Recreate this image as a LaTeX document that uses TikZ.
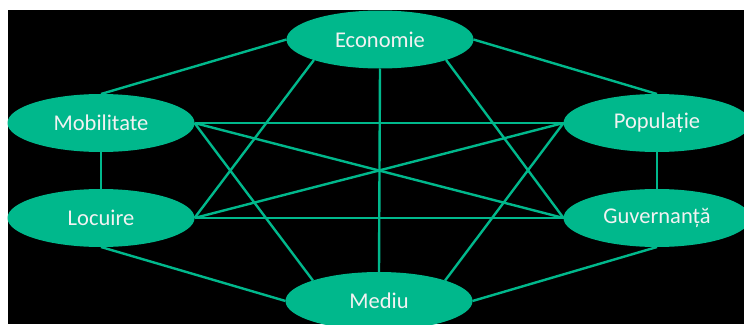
\documentclass[tikz,border=0pt]{standalone}
\usepackage{fontspec}
\setmainfont{Carlito}
\usetikzlibrary{shapes.geometric}
\pgfdeclarelayer{bg}
\pgfdeclarelayer{edges}
\pgfsetlayers{bg,edges,main}
\definecolor{teal}{RGB}{0,184,140}
\definecolor{txt}{RGB}{242,242,242}
\tikzset{
  topic/.style={ellipse, fill=teal, draw=none, minimum width=187pt, minimum height=58pt,
    inner sep=0pt, outer sep=0pt, text=txt, font=\fontsize{22.5}{27}\selectfont},
  link/.style={draw=teal, line width=2.4pt}
}
\begin{document}
\begin{tikzpicture}[x=1pt,y=-1pt]
\useasboundingbox (0,0) rectangle (744,324);
\begin{pgfonlayer}{bg}
  \fill[white] (0,0) rectangle (744,324);
  \fill[black] (8,10) rectangle (744,324);
\end{pgfonlayer}
\clip (0,0) rectangle (744,324);
\node[topic] (E) at (380,39.5) {Economie};
\node[topic] (Mob) at (101,123) {Mobilitate};
\node[topic] (L) at (101,218) {Locuire};
\node[topic] (P) at (657,123) {Populație};
\node[topic] (G) at (657,218) {Guvernanță};
\node[topic] (Med) at (379,301) {Mediu};
\begin{pgfonlayer}{edges}
  \draw[link] (Mob.north) -- (E.west);
  \draw[link] (E.east) -- (P.north);
  \draw[link] (E.south) -- (Med.north);
  \draw[link] (E.south west) -- (L.east);
  \draw[link] (E.south east) -- (G.west);
  \draw[link] (Mob.south) -- (L.north);
  \draw[link] (Mob.east) -- (P.west);
  \draw[link] (Mob.east) -- (G.west);
  \draw[link] (Mob.east) -- (Med.north west);
  \draw[link] (L.south) -- (Med.west);
  \draw[link] (L.east) -- (P.west);
  \draw[link] (L.east) -- (G.west);
  \draw[link] (P.south) -- (G.north);
  \draw[link] (P.west) -- (Med.north east);
  \draw[link] (G.south) -- (Med.east);
\end{pgfonlayer}
\end{tikzpicture}
\end{document}
